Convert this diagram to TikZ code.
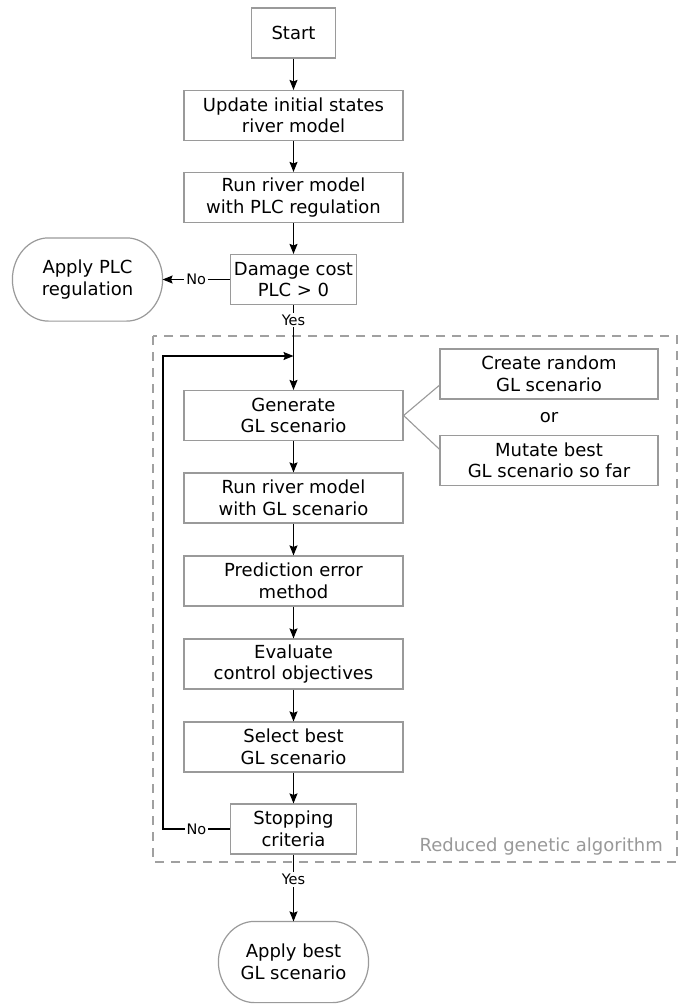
\documentclass[tikz,border=0pt]{standalone}
\usepackage{fontspec}
\setmainfont{DejaVu Sans}
\usetikzlibrary{arrows.meta,calc}
\definecolor{boxgray}{HTML}{9A9A9A}
\definecolor{dashgray}{HTML}{A0A0A0}
\definecolor{txtgray}{HTML}{999999}
\newcommand\termoutline[3]{% node, half-width of end (pt), half-height (pt)
  \draw[termline] ([xshift=#2pt]#1.north west) -- ([xshift=-#2pt]#1.north east)
    .. controls ([xshift=-0.4477*#2pt]#1.north east) and ([yshift=0.5523*#3pt]#1.east) .. (#1.east)
    .. controls ([yshift=-0.5523*#3pt]#1.east) and ([xshift=-0.4477*#2pt]#1.south east) .. ([xshift=-#2pt]#1.south east)
    -- ([xshift=#2pt]#1.south west)
    .. controls ([xshift=0.4477*#2pt]#1.south west) and ([yshift=-0.5523*#3pt]#1.west) .. (#1.west)
    .. controls ([yshift=0.5523*#3pt]#1.west) and ([xshift=0.4477*#2pt]#1.north west) .. ([xshift=#2pt]#1.north west)
    -- cycle;}
\begin{document}
\begin{tikzpicture}[x=1pt,y=-1pt,
  stepbox/.style={draw=boxgray, line width=1.2pt, minimum height=50pt, inner sep=0pt,
    align=center, font=\fontsize{18}{21.5}\selectfont, text=black},
  widebox/.style={stepbox, minimum width=219pt},
  smallbox/.style={stepbox, minimum width=126pt},
  terminal/.style={stepbox, draw=none, minimum width=149pt, minimum height=82pt},
  termline/.style={draw=boxgray, line width=1.2pt, line join=round},
  conn/.style={line width=1.2pt, draw=black, -{Stealth[length=10pt,width=8pt,inset=1.5pt]}},
  lbl/.style={font=\fontsize{14.5}{16}\selectfont, fill=white, inner sep=2pt, text=black},
  optline/.style={draw=boxgray, line width=1.1pt}
]
\useasboundingbox (0,0) rectangle (683,1004);
\fill[white] (0,0) rectangle (683,1004);

% dashed region
\draw[draw=dashgray, line width=1.3pt, dash pattern=on 9pt off 7pt] (153,336) rectangle (677,862);
\node[anchor=east, text=txtgray, font=\fontsize{18}{21.5}\selectfont, inner sep=0pt] (rga) at (663,847) {Reduced genetic algorithm};

% nodes
\node[stepbox, minimum width=84pt] (start) at (293.5,33) {Start};
\node[widebox] (update) at (293.5,115.5) {Update initial states\\river model};
\node[widebox] (runplc) at (293.5,197.5) {Run river model\\with PLC regulation};
\node[smallbox] (damage) at (293.5,279.5) {Damage cost\\PLC {>} 0};
\node[terminal] (applyplc) at (87.5,279.5) {Apply PLC\\regulation};

\node[widebox] (gen) at (293.5,415.5) {Generate\\GL scenario};
\node[stepbox, minimum width=218pt] (create) at (549,374) {Create random\\GL scenario};
\node[font=\fontsize{18}{21.5}\selectfont, inner sep=0pt] (ortext) at (549,418) {or};
\node[stepbox, minimum width=218pt] (mutate) at (549,460.5) {Mutate best\\GL scenario so far};
\node[widebox] (rungl) at (293.5,498) {Run river model\\with GL scenario};
\node[widebox] (pred) at (293.5,581) {Prediction error\\method};
\node[widebox] (eval) at (293.5,664) {Evaluate\\control objectives};
\node[widebox] (select) at (293.5,747) {Select best\\GL scenario};
\node[smallbox] (stop) at (293.5,829) {Stopping\\criteria};
\node[terminal, minimum height=80pt] (best) at (293.5,962) {Apply best\\GL scenario};

% terminal outlines (elliptical ends)
\termoutline{applyplc}{36}{41}
\termoutline{best}{36}{40}

\coordinate (loopA) at (163,829);
\coordinate (loopB) at (163,356);
\coordinate (loopC) at (293.5,356);

% connectors
\draw[conn] (start) -- (update);
\draw[conn] (update) -- (runplc);
\draw[conn] (runplc) -- (damage);
\draw[conn] (damage.west) -- node[lbl]{No} (applyplc.east);
\draw[conn] (damage.south) -- node[lbl, pos=0.176]{Yes} (gen.north);
\draw[conn] (gen) -- (rungl);
\draw[conn] (rungl) -- (pred);
\draw[conn] (pred) -- (eval);
\draw[conn] (eval) -- (select);
\draw[conn] (select) -- (stop);
\draw[conn] (stop.west) -- node[lbl]{No} (loopA) -- (loopB) -- (loopC);
\draw[conn] (stop.south) -- node[lbl, pos=0.37]{Yes} (best.north);

\draw[optline] ($(create.south west)!0.28!(create.north west)$) -- (gen.east) -- ($(mutate.north west)!0.28!(mutate.south west)$);
\end{tikzpicture}
\end{document}
